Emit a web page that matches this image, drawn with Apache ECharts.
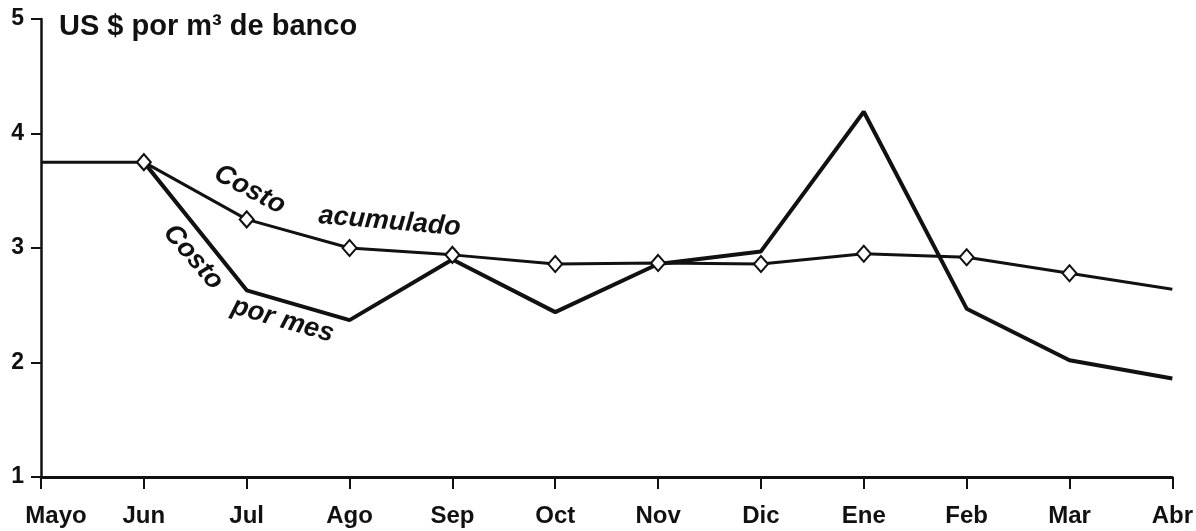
<!DOCTYPE html>
<html><head><meta charset="utf-8">
<script src="https://cdn.jsdelivr.net/npm/echarts@6/dist/echarts.min.js"></script>
<style>html,body{margin:0;padding:0;background:#fff}#c{width:1196px;height:531px}</style>
</head><body><div id="c"></div>
<script>
const months = ['Mayo','Jun','Jul','Ago','Sep','Oct','Nov','Dic','Ene','Feb','Mar','Abr'];
const costoAcumulado = [3.75,3.75,3.25,3.00,2.94,2.86,2.87,2.86,2.95,2.92,2.78,2.64];
const costoPorMes = [null,3.75,2.63,2.37,2.90,2.44,2.86,2.97,4.19,2.47,2.02,1.86];
const yMin = 1, yMax = 5, yStep = 1;
const axisTitle = 'US $ por m³ de banco';
// annotation texts placed in data space (category index, value), angle in degrees
const annotations = [
  {text:'Costo', x:2.03, y:3.51, angle:-28},
  {text:'acumulado', x:3.39, y:3.23, angle:-5},
  {text:'Costo', x:1.48, y:2.92, angle:-49},
  {text:'por mes', x:2.35, y:2.37, angle:-16}
];
const FONT = "'Liberation Sans', Arial, sans-serif";

const chart = echarts.init(document.getElementById('c'), null, {renderer:'canvas'});
chart.setOption({
  animation:false,
  backgroundColor:'#fff',
  grid:{left:41, right:22, top:19, bottom:54, containLabel:false},
  title:{text:axisTitle, left:54, top:7, textStyle:{fontFamily:FONT, fontWeight:'bold', fontSize:29, color:'#111'}},
  xAxis:{
    type:'category', data:months, boundaryGap:false,
    axisLine:{lineStyle:{color:'#111', width:3}},
    axisTick:{show:true, length:12, alignWithLabel:true, lineStyle:{color:'#111', width:2}},
    axisLabel:{
      margin:27, color:'#111', fontFamily:FONT, fontWeight:'bold', fontSize:24, interval:0,
      formatter:(v,i)=> i===0 ? '{a|'+v+'}' : v,
      rich:{a:{padding:[0,0,0,30], fontFamily:FONT, fontWeight:'bold', fontSize:24, color:'#111'}}
    },
    splitLine:{show:false}
  },
  yAxis:{
    type:'value', min:yMin, max:yMax, interval:yStep,
    axisLine:{show:true, lineStyle:{color:'#111', width:2.5}},
    axisTick:{show:true, length:10, lineStyle:{color:'#111', width:2}},
    axisLabel:{margin:17, color:'#111', fontFamily:FONT, fontWeight:'bold', fontSize:23},
    splitLine:{show:false}
  },
  series:[
    {
      name:'Costo por mes', type:'line', data:costoPorMes, showSymbol:false, symbol:'none',
      lineStyle:{color:'#111', width:4}, z:2
    },
    {
      name:'Costo acumulado', type:'line',
      data:costoAcumulado.map((v,i)=> (i===0||i===costoAcumulado.length-1) ? {value:v, symbol:'none'} : v),
      symbol:'diamond', symbolSize:[14,16], showSymbol:true,
      itemStyle:{color:'#fff', borderColor:'#111', borderWidth:2},
      lineStyle:{color:'#111', width:3}, z:3
    }
  ]
});

function px(xIdx, yVal){
  const p0 = chart.convertToPixel({gridIndex:0}, [0, yVal]);
  const p1 = chart.convertToPixel({gridIndex:0}, [months.length-1, yVal]);
  return [p0[0] + (p1[0]-p0[0]) * xIdx/(months.length-1), p0[1]];
}
chart.setOption({
  graphic: annotations.map(a=>{
    const p = px(a.x, a.y);
    return {type:'text', x:p[0], y:p[1], rotation:a.angle*Math.PI/180, z:10,
      style:{text:a.text, fontFamily:FONT, fontWeight:'bold', fontStyle:'italic', fontSize:27, fill:'#111', align:'center', verticalAlign:'middle'}};
  })
});
</script></body></html>
